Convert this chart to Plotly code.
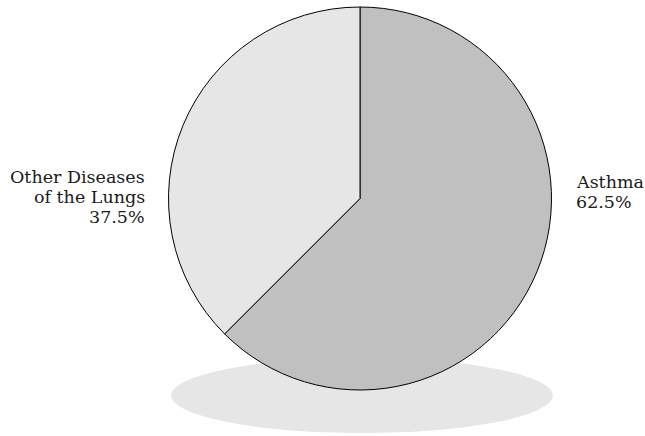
import plotly.graph_objects as go

labels = ["Asthma", "Other Diseases of the Lungs"]
values = [62.5, 37.5]
colors = ["#c0c0c0", "#e6e6e6"]
label_lines = [["Asthma"], ["Other Diseases", "of the Lungs"]]

W, H = 645, 436
total = sum(values)
pct = [f"{v / total * 100:.1f}%" for v in values]

fig = go.Figure()
fig.add_trace(go.Pie(
    labels=labels, values=values, sort=False, direction="clockwise", rotation=0,
    marker=dict(colors=colors, line=dict(color="#000000", width=1)),
    textinfo="none", hoverinfo="label+percent", showlegend=False,
    domain=dict(x=[168 / W, 552 / W], y=[1 - 390 / H, 1 - 7 / H]),
))

font = dict(family="DejaVu Serif, serif", size=17.5, color="#1a1a1a")
LINE = 20

def add_label(lines, x, first_baseline, anchor):
    for i, t in enumerate(lines):
        yc = first_baseline + i * LINE - 6
        fig.add_annotation(
            x=x / W, y=1 - yc / H, xref="paper", yref="paper", xanchor=anchor, yanchor="middle",
            text=t, showarrow=False, font=font, borderpad=0,
        )

add_label(label_lines[0] + [pct[0]], 575, 188, "left")
add_label(label_lines[1] + [pct[1]], 146, 183, "right")

fig.add_shape(type="circle", xref="paper", yref="paper",
              x0=171 / W, x1=553 / W, y0=1 - 433 / H, y1=1 - 358 / H,
              fillcolor="#e6e6e6", line=dict(width=0), layer="below")

fig.update_layout(width=W, height=H, margin=dict(l=0, r=0, t=0, b=0),
                  paper_bgcolor="white", plot_bgcolor="white")
fig.write_html("out.html")
